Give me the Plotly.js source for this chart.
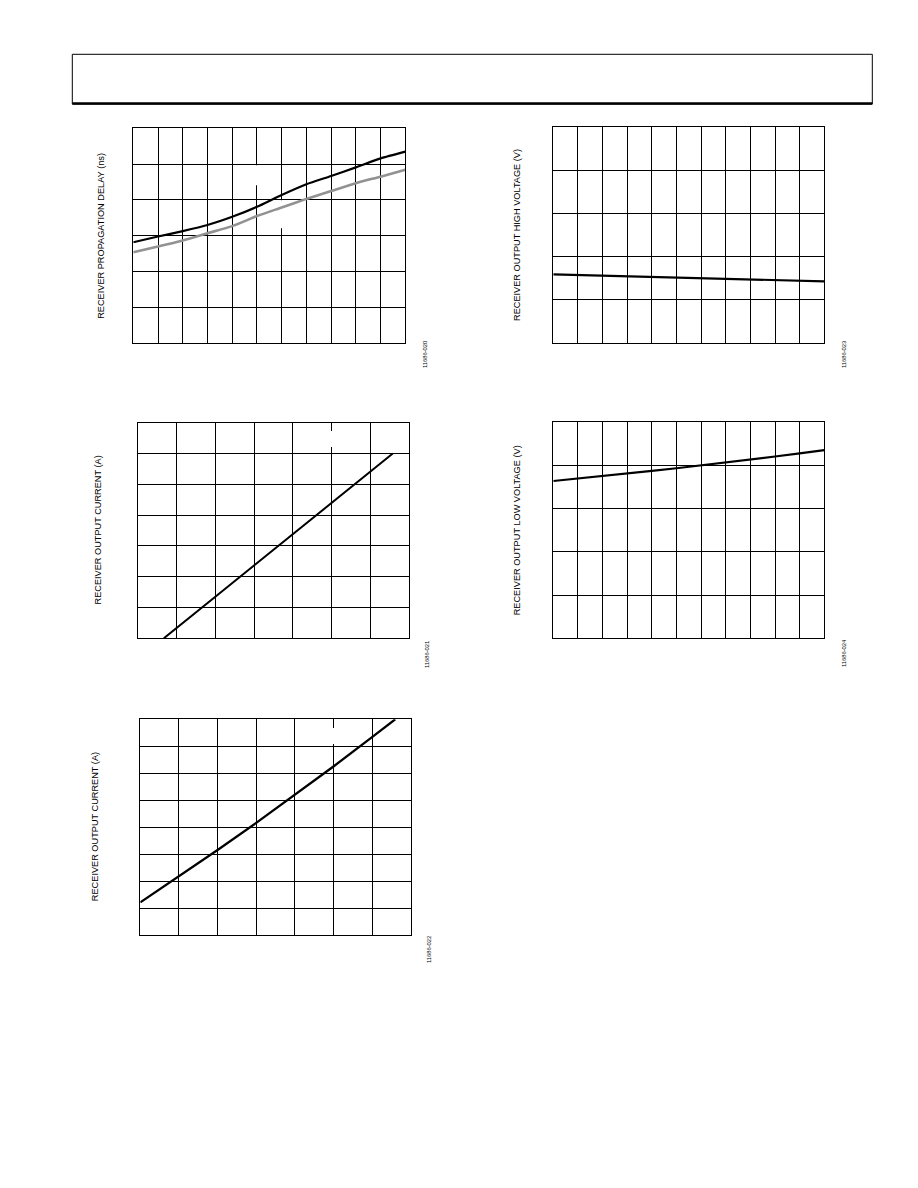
<!DOCTYPE html>
<html>
<head>
<meta charset="utf-8">
<script src="https://cdn.plot.ly/plotly-3.0.1.min.js"></script>
<style>html,body{margin:0;padding:0;background:#fff;}#chart{width:918px;height:1188px;}</style>
</head>
<body>
<div id="chart"></div>
<script>
// ---- data (grid units; the reference has no tick labels) ----
const delayX = [0, 1, 2, 3, 4, 5, 6, 7, 8, 9, 10, 11];
const delayBlack = [2.82, 2.98, 3.13, 3.30, 3.53, 3.81, 4.14, 4.44, 4.67, 4.91, 5.16, 5.35];
const delayGray = [2.54, 2.70, 2.87, 3.07, 3.27, 3.55, 3.79, 4.03, 4.25, 4.47, 4.65, 4.84];

const vohX = [0, 1, 2, 3, 4, 5, 6, 7, 8, 9, 10, 11];
const vohY = [1.587, 1.571, 1.563, 1.540, 1.525, 1.509, 1.494, 1.478, 1.471, 1.455, 1.440, 1.424];

const ioutX = [0.66, 1, 2, 3, 4, 5, 6, 6.58];
const ioutY = [0.0, 0.35, 1.36, 2.37, 3.39, 4.40, 5.41, 6.0];

const volX = [0, 1, 2, 3, 4, 5, 6, 7, 8, 9, 10, 11];
const volY = [3.642, 3.697, 3.754, 3.813, 3.874, 3.937, 4.002, 4.069, 4.138, 4.209, 4.282, 4.357];

const iout2X = [0, 1, 2, 3, 4, 5, 6, 6.6];
const iout2Y = [1.21, 2.17, 3.15, 4.16, 5.19, 6.25, 7.34, 8.0];

const yTitles = [
  "RECEIVER PROPAGATION DELAY (ns)",
  "RECEIVER OUTPUT HIGH VOLTAGE (V)",
  "RECEIVER OUTPUT CURRENT (A)",
  "RECEIVER OUTPUT LOW VOLTAGE (V)",
  "RECEIVER OUTPUT CURRENT (A)"
];
const figIds = ["11686-020", "11686-023", "11686-021", "11686-024", "11686-022"];

// ---- layout geometry (pixels) ----
const W = 918, H = 1188;
const px = v => v / W;
const py = v => 1 - v / H;

const boxes = [
  {x0: 133.3, x1: 405.3, y0: 128.3, y1: 343.3, nx: 11, ny: 6, tx: 101, ix: 425, iy: 355},
  {x0: 553.3, x1: 824.3, y0: 127.3, y1: 342.7, nx: 11, ny: 5, tx: 517, ix: 844, iy: 355},
  {x0: 138.3, x1: 409.0, y0: 422.7, y1: 638.3, nx: 7,  ny: 7, tx: 97,  ix: 427, iy: 655},
  {x0: 553.3, x1: 824.3, y0: 422.3, y1: 638.3, nx: 11, ny: 5, tx: 517, ix: 844, iy: 653},
  {x0: 140.3, x1: 410.7, y0: 719.3, y1: 935.0, nx: 7,  ny: 8, tx: 95,  ix: 429, iy: 950}
];

const traces = [
  {x: delayX, y: delayBlack, xaxis: 'x', yaxis: 'y', mode: 'lines', line: {color: '#000', width: 2.2, shape: 'spline', smoothing: 0.6}},
  {x: delayX, y: delayGray, xaxis: 'x', yaxis: 'y', mode: 'lines', line: {color: '#929292', width: 2.6, shape: 'spline', smoothing: 0.6}},
  {x: vohX, y: vohY, xaxis: 'x2', yaxis: 'y2', mode: 'lines', line: {color: '#000', width: 2.2}},
  {x: ioutX, y: ioutY, xaxis: 'x3', yaxis: 'y3', mode: 'lines', line: {color: '#000', width: 2.0}},
  {x: volX, y: volY, xaxis: 'x4', yaxis: 'y4', mode: 'lines', line: {color: '#000', width: 2.2}},
  {x: iout2X, y: iout2Y, xaxis: 'x5', yaxis: 'y5', mode: 'lines', line: {color: '#000', width: 2.3}}
];

const font = "'Liberation Sans', Arial, Helvetica, sans-serif";
const layout = {
  width: W, height: H,
  margin: {l: 0, r: 0, t: 0, b: 0},
  paper_bgcolor: '#fff', plot_bgcolor: '#fff',
  showlegend: false,
  font: {family: font, color: '#000', size: 9},
  annotations: [],
  shapes: []
};

boxes.forEach((b, i) => {
  const s = i === 0 ? '' : String(i + 1);
  const axCommon = {
    showline: true, mirror: true, linecolor: '#000', linewidth: 1,
    showgrid: true, gridcolor: '#000', gridwidth: 1,
    zeroline: false, showticklabels: false, ticks: '', dtick: 1, tick0: 0,
    fixedrange: true
  };
  layout['xaxis' + s] = Object.assign({}, axCommon, {
    domain: [px(b.x0), px(b.x1)], range: [0, b.nx], anchor: 'y' + s
  });
  layout['yaxis' + s] = Object.assign({}, axCommon, {
    domain: [py(b.y1), py(b.y0)], range: [0, b.ny], anchor: 'x' + s
  });
  layout.annotations.push({
    xref: 'paper', yref: 'paper', x: px(b.tx), y: py((b.y0 + b.y1) / 2),
    text: yTitles[i], textangle: -90, showarrow: false,
    xanchor: 'center', yanchor: 'middle',
    font: {family: font, size: 9.2, color: '#000'}
  });
  layout.annotations.push({
    xref: 'paper', yref: 'paper', x: px(b.ix), y: py(b.iy),
    text: figIds[i], textangle: -90, showarrow: false,
    xanchor: 'center', yanchor: 'middle',
    font: {family: font, size: 5.8, color: '#000'}
  });
});

// white gaps in some gridlines (masking remnants in the reference)
const gaps = [
  {ax: '', x: 5, y0: 4.41, y1: 4.97},
  {ax: '', x: 6, y0: 3.21, y1: 3.99},
  {ax: '3', x: 5, y0: 6.21, y1: 6.73},
  {ax: '5', x: 5, y0: 7.08, y1: 7.68}
];
gaps.forEach(g => {
  layout.shapes.push({
    type: 'rect', layer: 'between', xref: 'x' + g.ax, yref: 'y' + g.ax,
    x0: g.x - 0.06, x1: g.x + 0.06, y0: g.y0, y1: g.y1,
    fillcolor: '#fff', line: {width: 0}
  });
});

// header frame
layout.shapes.push({
  type: 'rect', xref: 'paper', yref: 'paper',
  x0: px(72.3), x1: px(872.3), y0: py(104), y1: py(54.3),
  line: {color: '#000', width: 1}, fillcolor: 'rgba(0,0,0,0)'
});
layout.shapes.push({
  type: 'line', xref: 'paper', yref: 'paper',
  x0: px(72.3), x1: px(872.3), y0: py(103.6), y1: py(103.6),
  line: {color: '#000', width: 2.5}
});

Plotly.newPlot('chart', traces, layout, {displayModeBar: false, staticPlot: true});
</script>
</body>
</html>
